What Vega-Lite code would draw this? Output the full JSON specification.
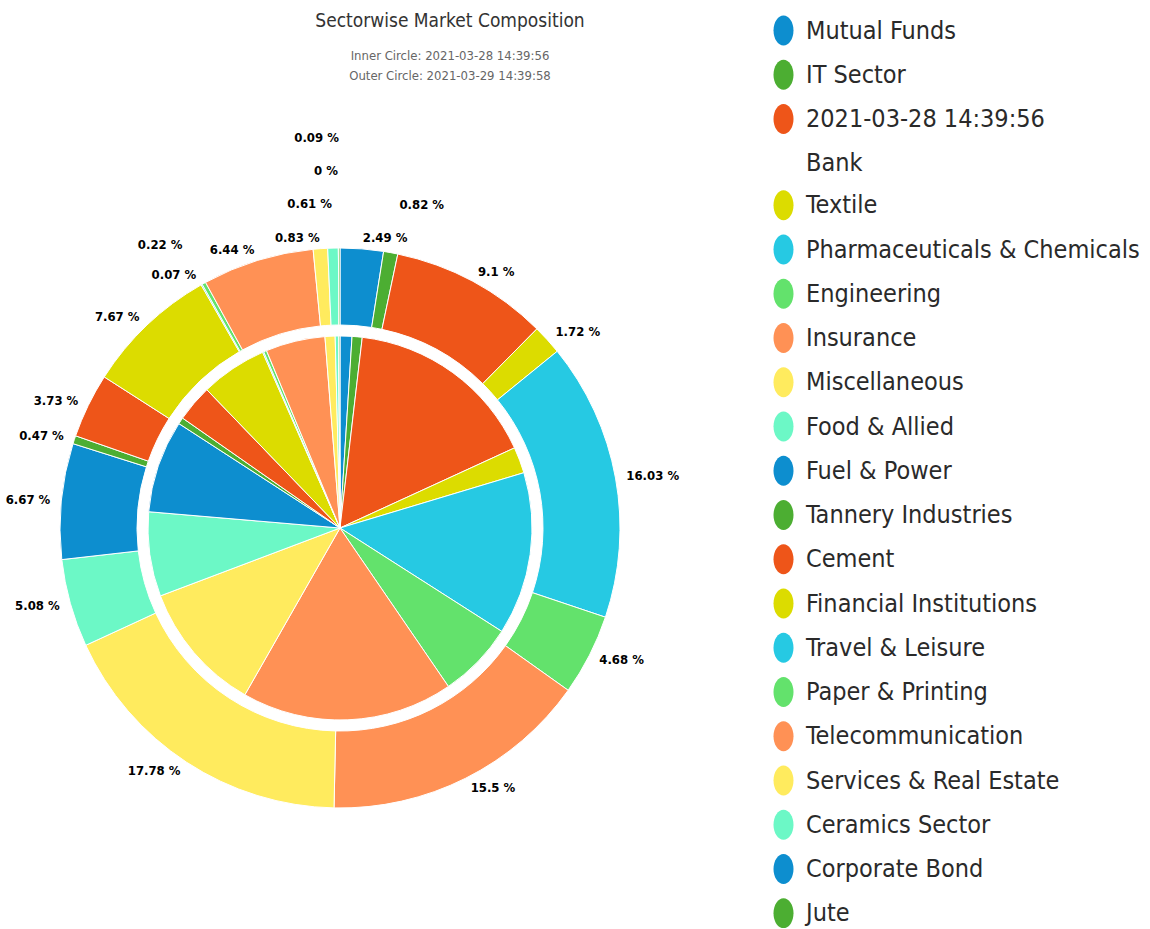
{
  "$schema": "https://vega.github.io/schema/vega-lite/v6.json",
  "autosize": {"type": "none"},
  "padding": {"top": 128, "left": 0, "right": 470, "bottom": 0},
  "width": 680,
  "height": 800,
  "background": "white",
  "config": {"view": {"stroke": null}, "style": {"guide-label": {"lineHeight": 44}}},
  "title": {
    "text": "Sectorwise Market Composition",
    "subtitle": ["Inner Circle: 2021-03-28 14:39:56", "Outer Circle: 2021-03-29 14:39:58"],
    "anchor": "middle",
    "dx": 110,
    "dy": 111,
    "offset": 46,
    "font": "'DejaVu Sans Condensed', Roboto",
    "fontSize": 19,
    "fontWeight": "normal",
    "color": "#333333",
    "subtitleFont": "'DejaVu Sans Condensed', Roboto",
    "subtitleFontSize": 13,
    "subtitleColor": "#666666",
    "subtitlePadding": 19,
    "subtitleLineHeight": 20
  },
  "datasets": {
    "outer": [
      {"sector": "Mutual Funds", "value": 2.49},
      {"sector": "IT Sector", "value": 0.82},
      {"sector": "Bank", "value": 9.1},
      {"sector": "Textile", "value": 1.72},
      {"sector": "Pharmaceuticals & Chemicals", "value": 16.03},
      {"sector": "Engineering", "value": 4.68},
      {"sector": "Insurance", "value": 15.5},
      {"sector": "Miscellaneous", "value": 17.78},
      {"sector": "Food & Allied", "value": 5.08},
      {"sector": "Fuel & Power", "value": 6.67},
      {"sector": "Tannery Industries", "value": 0.47},
      {"sector": "Cement", "value": 3.73},
      {"sector": "Financial Institutions", "value": 7.67},
      {"sector": "Travel & Leisure", "value": 0.07},
      {"sector": "Paper & Printing", "value": 0.22},
      {"sector": "Telecommunication", "value": 6.44},
      {"sector": "Services & Real Estate", "value": 0.83},
      {"sector": "Ceramics Sector", "value": 0.61},
      {"sector": "Corporate Bond", "value": 0},
      {"sector": "Jute", "value": 0.09}
    ],
    "inner": [
      {"sector": "Mutual Funds", "value": 1.0},
      {"sector": "IT Sector", "value": 0.85},
      {"sector": "Bank", "value": 16.3},
      {"sector": "Textile", "value": 2.2},
      {"sector": "Pharmaceuticals & Chemicals", "value": 13.7},
      {"sector": "Engineering", "value": 6.4},
      {"sector": "Insurance", "value": 17.8},
      {"sector": "Miscellaneous", "value": 11.0},
      {"sector": "Food & Allied", "value": 7.1},
      {"sector": "Fuel & Power", "value": 7.8},
      {"sector": "Tannery Industries", "value": 0.55},
      {"sector": "Cement", "value": 3.1},
      {"sector": "Financial Institutions", "value": 5.6},
      {"sector": "Travel & Leisure", "value": 0.1},
      {"sector": "Paper & Printing", "value": 0.25},
      {"sector": "Telecommunication", "value": 5.0},
      {"sector": "Services & Real Estate", "value": 0.85},
      {"sector": "Ceramics Sector", "value": 0.3},
      {"sector": "Corporate Bond", "value": 0},
      {"sector": "Jute", "value": 0.1}
    ]
  },
  "layer": [
    {
      "data": {"name": "outer"},
      "transform": [{"window": [{"op": "row_number", "as": "rank"}]}],
      "mark": {"type": "arc", "outerRadius": 280, "innerRadius": 203, "stroke": "white", "strokeWidth": 1},
      "encoding": {
        "theta": {"field": "value", "type": "quantitative", "stack": true},
        "order": {"field": "rank", "type": "quantitative"},
        "color": {
          "field": "sector", "type": "nominal",
          "scale": {
            "domain": ["Mutual Funds","IT Sector","Bank","Textile","Pharmaceuticals & Chemicals","Engineering","Insurance","Miscellaneous","Food & Allied","Fuel & Power","Tannery Industries","Cement","Financial Institutions","Travel & Leisure","Paper & Printing","Telecommunication","Services & Real Estate","Ceramics Sector","Corporate Bond","Jute"],
            "range": ["#0d8ecf","#4cae32","#ee5519","#dcdc00","#26c9e3","#63e26c","#ff9155","#ffeb5e","#6cf8c6","#0d8ecf","#4cae32","#ee5519","#dcdc00","#26c9e3","#63e26c","#ff9155","#ffeb5e","#6cf8c6","#0d8ecf","#4cae32"]
          },
          "legend": {
            "orient": "none",
            "legendX": 771,
            "legendY": -110,
            "title": null,
            "labelFont": "'DejaVu Sans Condensed', Roboto",
            "labelFontSize": 25,
            "labelColor": "#2a2a2a",
            "labelLimit": 0,
            "labelOffset": 10,
            "rowPadding": 13.25,
            "symbolType": "M0,-1.5A1,1.5,0,1,1,0,1.5A1,1.5,0,1,1,0,-1.5Z",
            "symbolSize": 400,
            "symbolStrokeWidth": 0,
            "symbolOpacity": 1,
            "labelExpr": "datum.label == 'Bank' ? ['2021-03-28 14:39:56', 'Bank'] : datum.label",
            "encode": {"labels": {"update": {"lineHeight": {"value": 44}}}}
          }
        }
      }
    },
    {
      "data": {"name": "inner"},
      "transform": [{"window": [{"op": "row_number", "as": "rank"}]}],
      "mark": {"type": "arc", "outerRadius": 192, "innerRadius": 0, "stroke": "white", "strokeWidth": 1},
      "encoding": {
        "theta": {"field": "value", "type": "quantitative", "stack": true},
        "order": {"field": "rank", "type": "quantitative"},
        "color": {"field": "sector", "type": "nominal"}
      }
    },
    {
      "data": {"name": "outer"},
      "transform": [{"window": [{"op": "row_number", "as": "rank"}]}],
      "mark": {"type": "text", "radius": 291, "align": "left", "baseline": "middle", "font": "'DejaVu Sans Condensed', Roboto", "fontWeight": "bold", "fontSize": 13, "color": "#000000"},
      "encoding": {
        "theta": {"field": "value", "type": "quantitative", "stack": true},
        "order": {"field": "rank", "type": "quantitative"},
        "detail": {"field": "sector"},
        "text": {"value": {"expr": "indexof(['Mutual Funds','Bank','Textile','Pharmaceuticals & Chemicals','Engineering','Insurance'], datum.sector) >= 0 ? datum.value + ' %' : ''"}}
      }
    },
    {
      "data": {"name": "outer"},
      "transform": [{"window": [{"op": "row_number", "as": "rank"}]}],
      "mark": {"type": "text", "radius": 328, "align": "left", "baseline": "middle", "font": "'DejaVu Sans Condensed', Roboto", "fontWeight": "bold", "fontSize": 13, "color": "#000000"},
      "encoding": {
        "theta": {"field": "value", "type": "quantitative", "stack": true},
        "order": {"field": "rank", "type": "quantitative"},
        "detail": {"field": "sector"},
        "text": {"value": {"expr": "indexof(['IT Sector'], datum.sector) >= 0 ? datum.value + ' %' : ''"}}
      }
    },
    {
      "data": {"name": "outer"},
      "transform": [{"window": [{"op": "row_number", "as": "rank"}]}],
      "mark": {"type": "text", "radius": 291, "align": "right", "baseline": "middle", "font": "'DejaVu Sans Condensed', Roboto", "fontWeight": "bold", "fontSize": 13, "color": "#000000"},
      "encoding": {
        "theta": {"field": "value", "type": "quantitative", "stack": true},
        "order": {"field": "rank", "type": "quantitative"},
        "detail": {"field": "sector"},
        "text": {"value": {"expr": "indexof(['Miscellaneous','Food & Allied','Fuel & Power','Tannery Industries','Cement','Financial Institutions','Travel & Leisure','Telecommunication','Services & Real Estate'], datum.sector) >= 0 ? datum.value + ' %' : ''"}}
      }
    },
    {
      "data": {"name": "outer"},
      "transform": [{"window": [{"op": "row_number", "as": "rank"}]}],
      "mark": {"type": "text", "radius": 324, "align": "right", "baseline": "middle", "font": "'DejaVu Sans Condensed', Roboto", "fontWeight": "bold", "fontSize": 13, "color": "#000000"},
      "encoding": {
        "theta": {"field": "value", "type": "quantitative", "stack": true},
        "order": {"field": "rank", "type": "quantitative"},
        "detail": {"field": "sector"},
        "text": {"value": {"expr": "indexof(['Paper & Printing','Ceramics Sector'], datum.sector) >= 0 ? datum.value + ' %' : ''"}}
      }
    },
    {
      "data": {"name": "outer"},
      "transform": [{"window": [{"op": "row_number", "as": "rank"}]}],
      "mark": {"type": "text", "radius": 357, "align": "right", "baseline": "middle", "font": "'DejaVu Sans Condensed', Roboto", "fontWeight": "bold", "fontSize": 13, "color": "#000000"},
      "encoding": {
        "theta": {"field": "value", "type": "quantitative", "stack": true},
        "order": {"field": "rank", "type": "quantitative"},
        "detail": {"field": "sector"},
        "text": {"value": {"expr": "indexof(['Corporate Bond'], datum.sector) >= 0 ? datum.value + ' %' : ''"}}
      }
    },
    {
      "data": {"name": "outer"},
      "transform": [{"window": [{"op": "row_number", "as": "rank"}]}],
      "mark": {"type": "text", "radius": 390, "align": "right", "baseline": "middle", "font": "'DejaVu Sans Condensed', Roboto", "fontWeight": "bold", "fontSize": 13, "color": "#000000"},
      "encoding": {
        "theta": {"field": "value", "type": "quantitative", "stack": true},
        "order": {"field": "rank", "type": "quantitative"},
        "detail": {"field": "sector"},
        "text": {"value": {"expr": "indexof(['Jute'], datum.sector) >= 0 ? datum.value + ' %' : ''"}}
      }
    }
  ]
}
